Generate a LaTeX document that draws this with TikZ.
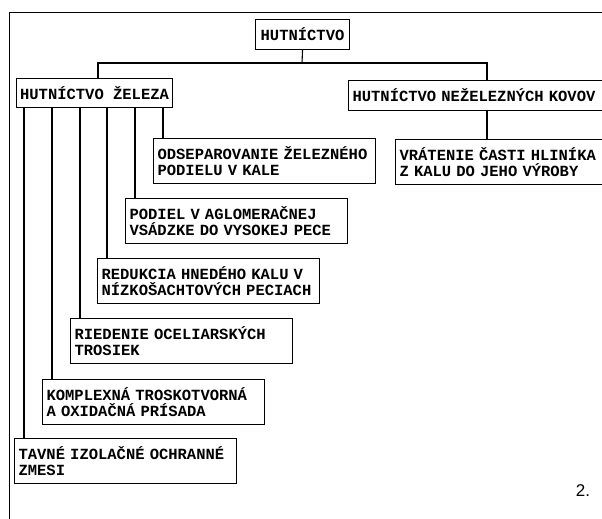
\documentclass[tikz,border=0pt]{standalone}
\usepackage{fontspec}
\setmonofont{Liberation Mono}
\newfontfamily\numfont{Liberation Sans}
\usetikzlibrary{calc}

\begin{document}
\begin{tikzpicture}[x=1pt,y=-1pt,
  box/.style={draw,line width=1.1pt,anchor=north west,inner sep=0pt,
    font=\ttfamily\bfseries\fontsize{15.5}{15.5}\selectfont},
  tbox/.style={box,text width=214pt,inner xsep=4pt,minimum height=45pt,align=left},
  link/.style={line width=1.1pt}]
\useasboundingbox (0,0) rectangle (602,519);
\clip (0,0) rectangle (602,519);
\draw[line width=1pt] (9,530) -- (9,13) -- (610,13);

\node[box,minimum width=94pt,minimum height=30pt] (hut) at (255,19) {HUTNÍCTVO};
\node[box,minimum width=156pt,minimum height=29pt] (zel) at (16,78) {HUTNÍCTVO ŽELEZA};
\node[box,text width=252pt,inner xsep=4pt,minimum height=30pt,align=left] (nez) at (348,80)
  {HUTNÍCTVO NEŽELEZNÝCH KOVOV};
\node[tbox] (vra) at (395,139) {VRÁTENIE ČASTI HLINÍKA\\Z KALU DO JEHO VÝROBY};

\node[tbox] (ods) at (153,138) {ODSEPAROVANIE ŽELEZNÉHO\\PODIELU V KALE};
\node[tbox] (pod) at (125,198) {PODIEL V AGLOMERAČNEJ\\VSÁDZKE DO VYSOKEJ PECE};
\node[tbox] (red) at (97,258) {REDUKCIA HNEDÉHO KALU V\\NÍZKOŠACHTOVÝCH PECIACH};
\node[tbox] (rie) at (70,318) {RIEDENIE OCELIARSKÝCH\\TROSIEK};
\node[tbox] (kom) at (42,379) {KOMPLEXNÁ TROSKOTVORNÁ\\A OXIDAČNÁ PRÍSADA};
\node[tbox] (tav) at (14,438) {TAVNÉ IZOLAČNÉ OCHRANNÉ\\ZMESI};

\coordinate (fork) at (302,63);
\draw[link] (hut.south) -- (fork);
\draw[link] ([xshift=82pt]zel.north west) |- (fork) -| ([xshift=139pt]nez.north west);
\draw[link] ([xshift=92pt]vra.north west) -- ([xshift=92pt]vra.north west |- nez.south);
\foreach \c in {ods,pod,red,rie,kom,tav}
  \draw[link] ([xshift=10pt]\c.north west) -- ([xshift=10pt]\c.north west |- zel.south);

\node (num) at (583,491) {\numfont\fontsize{17}{20}\selectfont 2.};
\end{tikzpicture}
\end{document}
